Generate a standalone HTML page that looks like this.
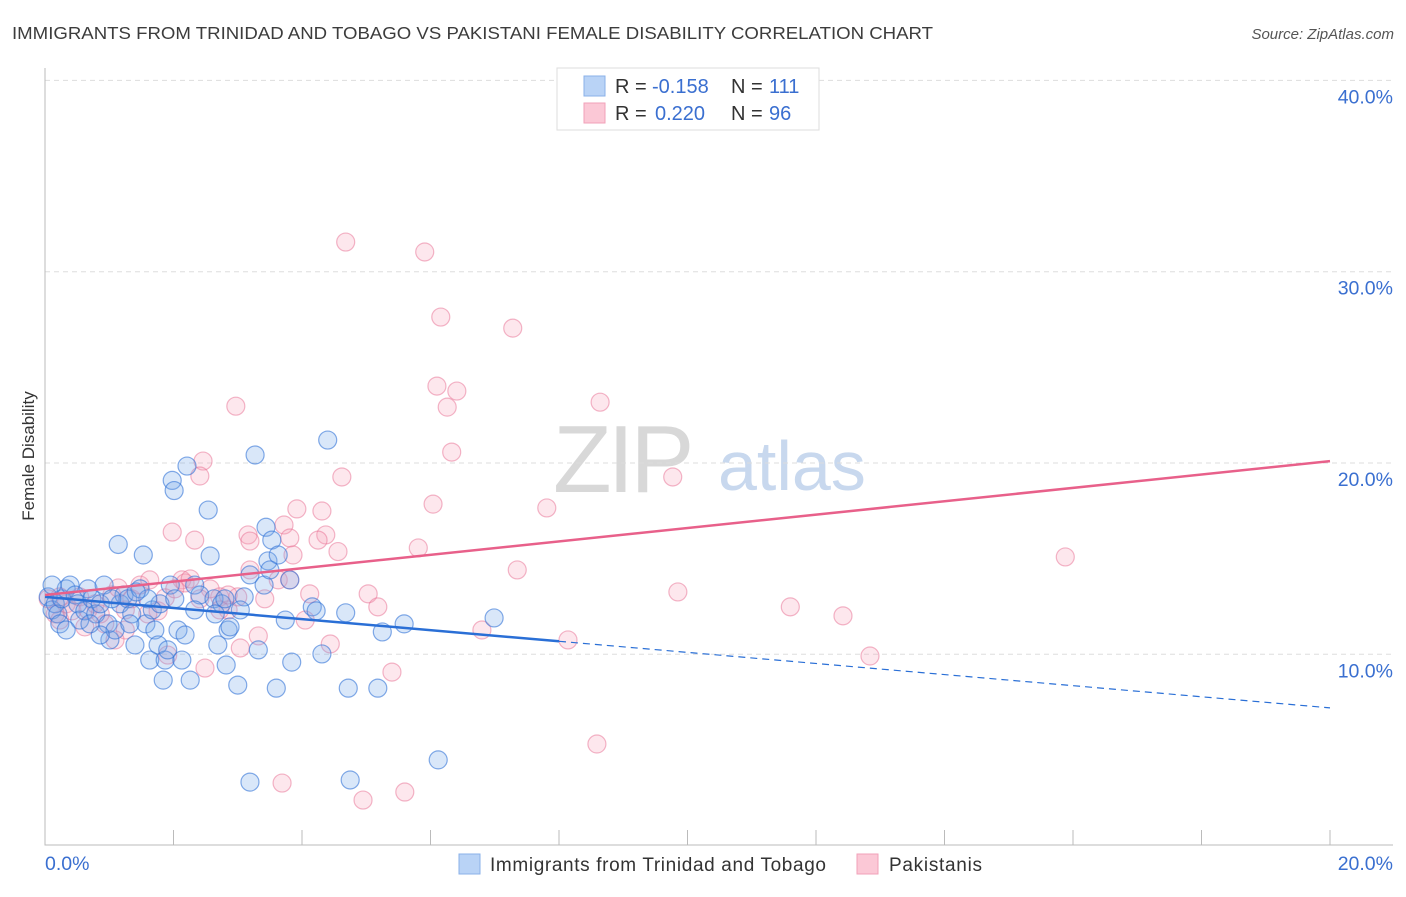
<!DOCTYPE html>
<html><head><meta charset="utf-8"><style>
body{margin:0;background:#fff;font-family:"Liberation Sans",sans-serif}
svg text{font-family:"Liberation Sans",sans-serif}
</style></head><body>
<svg id="chart" width="1406" height="892" xmlns="http://www.w3.org/2000/svg">
<text x="12" y="39" font-size="17.5" fill="#3c3c3c" textLength="921" lengthAdjust="spacingAndGlyphs">IMMIGRANTS FROM TRINIDAD AND TOBAGO VS PAKISTANI FEMALE DISABILITY CORRELATION CHART</text>
<text x="1394" y="39" font-size="15" fill="#555" text-anchor="end" font-style="italic">Source: ZipAtlas.com</text>
<text transform="translate(34,456) rotate(-90)" font-size="17" fill="#333" text-anchor="middle">Female Disability</text>
<g>
<text x="553" y="492" font-size="96" fill="#d8d8d8" font-family="Liberation Serif" letter-spacing="-4">ZIP</text>
<text x="718" y="490" font-size="70" fill="#c8d8ee">atlas</text>
</g>
<g id="grid"></g>
<g id="axes"></g>
<g id="pts"></g>
<g id="lines"></g>
<g>
<rect x="557" y="68" width="262" height="62" fill="#fff" stroke="#ddd"/>
<rect x="584" y="76" width="21" height="20" fill="#b9d3f6" stroke="#8ab0e8"/>
<rect x="584" y="103" width="21" height="20" fill="#fbc8d6" stroke="#f2a1b8"/>
<text x="615" y="93" font-size="20" fill="#333">R = <tspan fill="#3a6fd0" x="652">-0.158</tspan><tspan x="731">N = </tspan><tspan fill="#3a6fd0" x="769">111</tspan></text>
<text x="615" y="120" font-size="20" fill="#333">R = <tspan fill="#3a6fd0" x="655">0.220</tspan><tspan x="731">N = </tspan><tspan fill="#3a6fd0" x="769">96</tspan></text>
</g>
<g>
<rect x="459" y="854" width="21" height="20" fill="#b9d3f6" stroke="#8ab0e8"/>
<text x="490" y="871" font-size="19" fill="#333" textLength="336">Immigrants from Trinidad and Tobago</text>
<rect x="857" y="854" width="21" height="20" fill="#fbc8d6" stroke="#f2a1b8"/>
<text x="889" y="871" font-size="19" fill="#333" textLength="93">Pakistanis</text>
</g>
</svg>
<script>
const blueX=[.05,.11,.16,.20,.26,.33,.39,.47,.51,.54,.62,.67,.73,.79,.86,.92,.98,1.01,1.09,1.14,1.17,1.23,1.29,1.35,1.40,1.48,1.53,1.57,1.63,1.67,1.71,1.76,1.79,1.84,1.87,1.91,1.95,1.98,2.01,2.07,2.13,2.18,2.21,2.26,2.33,2.41,2.54,2.57,2.63,2.69,2.75,2.82,2.85,3.00,3.10,3.19,3.27,3.32,3.41,3.44,3.47,3.53,3.60,3.63,3.74,3.81,3.84,4.16,4.22,4.31,4.40,4.68,4.72,4.75,5.18,5.25,5.59,6.12,6.99,3.19,.11,.23,.86,1.32,1.60,2.65,2.88,3.04,3.50,.70,.33,1.04,1.42,2.02,2.33,2.80];
const blueY=[13.00,12.32,12.64,12.11,12.90,13.42,13.62,13.10,12.64,11.79,12.27,13.42,12.90,12.11,12.64,13.62,11.59,10.75,11.27,15.74,12.64,13.10,12.90,12.11,10.49,13.42,15.19,11.59,9.70,12.32,11.27,10.49,12.64,8.65,9.70,10.23,13.62,19.09,18.56,11.27,9.70,11.01,19.84,8.65,13.62,13.10,17.54,15.14,12.90,10.49,12.64,9.44,11.27,8.39,13.00,14.15,20.42,10.23,13.62,16.64,14.88,15.97,8.23,15.19,11.79,13.89,9.59,12.48,12.27,10.02,21.20,12.17,8.23,3.43,8.23,11.17,11.59,4.48,11.90,3.32,13.62,11.59,11.01,11.59,12.90,12.11,11.43,12.32,14.41,11.59,11.27,12.90,13.26,12.90,12.32,12.90];
const pinkX=[4.68,5.91,6.16,7.28,6.10,6.41,6.26,2.97,8.64,6.33,2.46,9.77,4.62,2.41,6.04,7.81,3.92,4.31,1.98,3.72,3.16,3.19,3.81,4.37,2.33,3.86,4.25,4.56,5.81,15.88,7.35,3.63,3.81,2.13,3.19,9.85,5.03,4.12,5.18,11.60,12.42,3.00,2.72,2.57,2.85,6.80,3.32,8.14,4.44,12.84,3.04,2.49,5.40,8.59,3.69,4.95,5.60,.05,.16,.23,.33,.42,.54,.67,.78,.93,1.04,1.14,1.25,1.35,1.48,1.63,1.76,1.87,1.91,2.02,2.18,2.26,2.41,1.25,.23,.62,.86,1.60,3.42,4.05,2.85,1.09,2.72];
const pinkY=[31.55,31.03,27.63,27.05,24.02,23.76,22.92,22.97,23.18,20.57,20.10,19.27,19.27,19.32,17.85,17.65,17.60,17.49,16.39,16.76,16.24,15.92,16.08,16.24,15.97,15.19,15.97,15.37,15.56,15.09,14.41,13.89,13.89,13.89,14.41,13.26,13.16,13.16,12.48,12.48,12.01,13.00,13.00,13.42,12.32,11.27,10.96,10.75,10.54,9.91,10.33,9.28,9.07,5.31,3.27,2.38,2.80,12.90,12.11,11.79,12.64,12.27,13.00,12.32,12.64,11.59,13.10,13.47,12.32,12.90,13.62,13.89,12.27,12.95,9.96,13.42,13.73,13.94,12.90,11.27,13.00,11.43,12.11,12.11,12.90,11.79,13.10,10.75,12.32];
const yTicks=[10,20,30,40];
const yTickLabels=["10.0%","20.0%","30.0%","40.0%"];
const xTicks=[0,2,4,6,8,10,12,14,16,18,20];
const blueFit=[13.0,-0.29];
const pinkFit=[13.1,0.35];
const NS="http://www.w3.org/2000/svg";
const sx=v=>45+v*64.25, sy=v=>845.6-v*19.13;
function mk(tag,attrs,parent){const e=document.createElementNS(NS,tag);for(const k in attrs)e.setAttribute(k,attrs[k]);parent.appendChild(e);return e;}
const grid=document.getElementById('grid'),axes=document.getElementById('axes');
yTicks.forEach((t,i)=>{
 const l=mk('line',{x1:45,x2:1393,y1:sy(t),y2:sy(t),stroke:'#ddd','stroke-dasharray':'5,4'},grid);
 
 
 const tx=mk('text',{x:1393,y:sy(t)+23,'font-size':19.5,fill:'#3a6fd0','text-anchor':'end'},axes);
 tx.textContent=yTickLabels[i];
 
 
});
const ax=mk('path',{d:'M45,68V845H1393',stroke:'#bbb',fill:'none'},axes);


xTicks.forEach(t=>{
 const l=mk('line',{x1:sx(t),x2:sx(t),y1:845,y2:830,stroke:'#bbb'},axes);
 
 
});
[[0,'0.0%','start',45],[20,'20.0%','end',1393]].forEach(a=>{
 const tx=mk('text',{x:a[3],y:870,'font-size':19.5,fill:'#3a6fd0','text-anchor':a[2]},axes);
 tx.textContent=a[1];
 
 
});
const pts=document.getElementById('pts');
pinkX.forEach((x,i)=>{
 const c=mk('circle',{cx:sx(x),cy:sy(pinkY[i]),r:9,fill:'rgba(247,160,185,0.25)',stroke:'rgba(232,110,145,0.5)','stroke-width':1.2},pts);
 
 
});
blueX.forEach((x,i)=>{
 const c=mk('circle',{cx:sx(x),cy:sy(blueY[i]),r:9,fill:'rgba(120,170,235,0.28)',stroke:'rgba(50,115,215,0.6)','stroke-width':1.2},pts);
 
 
});
const lines=document.getElementById('lines');
const bf=x=>blueFit[0]+blueFit[1]*x, pf=x=>pinkFit[0]+pinkFit[1]*x;
let l1=mk('line',{x1:sx(0),y1:sy(bf(0)),x2:sx(8),y2:sy(bf(8)),stroke:'#2a6fd6','stroke-width':2.5},lines);


let l2=mk('line',{x1:sx(8),y1:sy(bf(8)),x2:sx(20),y2:sy(bf(20)),stroke:'#2a6fd6','stroke-width':1.2,'stroke-dasharray':'7,5'},lines);


let l3=mk('line',{x1:sx(0),y1:sy(pf(0)),x2:sx(20),y2:sy(pf(20)),stroke:'#e8608a','stroke-width':2.5},lines);


</script>
</body></html>
